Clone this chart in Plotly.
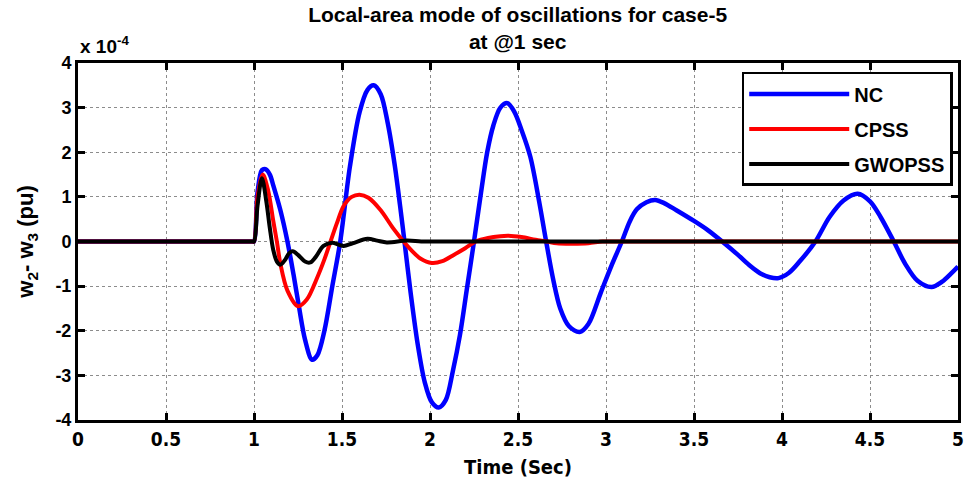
import plotly.graph_objects as go

# ---- data (values in units of 1e-4 pu) ----
t_nc = [0, 0.5, 0.98, 0.99, 1.0, 1.02, 1.045, 1.065, 1.09, 1.11, 1.15, 1.19, 1.225, 1.255, 1.29, 1.33, 1.36,
        1.40, 1.445, 1.49, 1.545, 1.60, 1.645, 1.68, 1.72, 1.76, 1.80, 1.83, 1.855, 1.89, 1.93,
        1.97, 2.01, 2.05, 2.09, 2.13, 2.17, 2.21, 2.25, 2.29, 2.325, 2.36, 2.40, 2.44, 2.48, 2.52,
        2.57, 2.62, 2.66, 2.70, 2.74, 2.79, 2.85, 2.90, 2.97, 3.03, 3.09, 3.135, 3.175, 3.23, 3.28,
        3.33, 3.40, 3.50, 3.58, 3.66, 3.75, 3.82, 3.875, 3.93, 3.98, 4.04, 4.10, 4.19, 4.27, 4.35,
        4.43, 4.50, 4.56, 4.635, 4.70, 4.77, 4.85, 4.91, 4.96, 5.0]
y_nc = [0, 0, 0, 0, 0, 1.1, 1.6, 1.62, 1.5, 1.25, 0.7, 0.0, -0.75, -1.45, -2.2, -2.65, -2.55,
        -2.0, -1.0, 0, 1.68, 2.9, 3.4, 3.5, 3.3, 2.65, 1.7, 0.8, 0, -1.15, -2.3,
        -3.15, -3.6, -3.72, -3.55, -2.9, -2.1, -1.05, 0, 1.1, 2.0, 2.6, 3.0, 3.1, 2.9, 2.5,
        1.9, 0.9, 0, -0.85, -1.5, -1.9, -2.03, -1.85, -1.15, -0.55, 0, 0.45, 0.72, 0.88, 0.93,
        0.86, 0.7, 0.46, 0.25, 0, -0.3, -0.55, -0.71, -0.8, -0.82, -0.7, -0.45, 0, 0.55, 0.92,
        1.07, 0.9, 0.55, 0, -0.5, -0.88, -1.02, -0.9, -0.72, -0.56]

t_cpss = [0, 0.5, 0.98, 0.99, 1.0, 1.02, 1.05, 1.08, 1.11, 1.13, 1.15, 1.19, 1.25, 1.30, 1.36, 1.40,
          1.435, 1.47, 1.51, 1.555, 1.60, 1.65, 1.72, 1.79, 1.85, 1.90, 1.945, 2.01, 2.07, 2.135,
          2.20, 2.26, 2.33, 2.40, 2.445, 2.52, 2.60, 2.665, 2.72, 2.80, 2.90, 2.98, 3.05, 3.5, 5.0]
y_cpss = [0, 0, 0, 0, 0, 1.0, 1.5, 1.15, 0.45, 0, -0.5, -1.1, -1.45, -1.3, -0.8, -0.4,
          0, 0.4, 0.8, 1.0, 1.05, 0.98, 0.7, 0.3, 0, -0.22, -0.38, -0.48, -0.44, -0.3,
          -0.15, 0, 0.08, 0.12, 0.13, 0.1, 0.04, 0, -0.04, -0.05, -0.04, 0, 0, 0, 0]

t_gwo = [0, 0.5, 0.98, 0.99, 1.0, 1.02, 1.045, 1.07, 1.09, 1.11, 1.13, 1.15, 1.175, 1.20, 1.22,
         1.25, 1.29, 1.32, 1.35, 1.395, 1.445, 1.48, 1.51, 1.56, 1.645, 1.70, 1.755, 1.87, 1.95,
         2.05, 2.5, 5.0]
y_gwo = [0, 0, 0, 0, 0, 0.8, 1.42, 0.9, 0.3, -0.2, -0.45, -0.52, -0.42, -0.26, -0.22,
         -0.3, -0.45, -0.47, -0.35, -0.1, -0.03, -0.07, -0.1, -0.04, 0.06, 0.02, -0.02, 0.02, 0,
         0, 0, 0]

x_ticks = [0, 0.5, 1, 1.5, 2, 2.5, 3, 3.5, 4, 4.5, 5]
x_tick_text = ["0", "0.5", "1", "1.5", "2", "2.5", "3", "3.5", "4", "4.5", "5"]
y_ticks = [-4, -3, -2, -1, 0, 1, 2, 3, 4]

BOLD = "Liberation Sans, Arial, sans-serif"
NARROW = "DejaVu Sans Condensed, Liberation Sans, sans-serif"

fig = go.Figure()
fig.add_trace(go.Scatter(x=t_nc, y=y_nc, name="<b>NC</b>", mode="lines",
                         line=dict(color="#0000ff", width=4.5, shape="spline", smoothing=0.9),
                         legendgroup="a"))
fig.add_trace(go.Scatter(x=t_cpss, y=y_cpss, name="<b>CPSS</b>", mode="lines",
                         line=dict(color="#ff0000", width=4, shape="spline", smoothing=0.9),
                         legendgroup="b"))
fig.add_trace(go.Scatter(x=t_gwo, y=y_gwo, name="<b>GWOPSS</b>", mode="lines",
                         line=dict(color="#000000", width=4, shape="spline", smoothing=0.9),
                         legendgroup="c"))

fig.update_layout(
    width=964, height=486,
    margin=dict(l=78, r=6, t=63, b=66, autoexpand=False),
    paper_bgcolor="white", plot_bgcolor="white",
    title=dict(text="<b>Local-area mode of oscillations for case-5<br>at @1 sec</b>",
               x=0.537, xanchor="center", y=0.955, yanchor="middle",
               font=dict(family=BOLD, size=21, color="black")),
    showlegend=True,
    legend=dict(x=0.994, y=0.975, xanchor="right", yanchor="top",
                bgcolor="white", bordercolor="black", borderwidth=2.5,
                font=dict(family=BOLD, size=20, color="black"),
                itemwidth=100, traceorder="grouped", tracegroupgap=6),
    annotations=[dict(text="<b>x 10<sup>-4</sup></b>", xref="paper", yref="paper",
                      x=0.0, y=1.012, xanchor="left", yanchor="bottom", showarrow=False,
                      font=dict(family=BOLD, size=19, color="black"))],
)

fig.update_xaxes(
    range=[0, 5], tickvals=x_ticks, ticktext=[f"<b>{s}</b>" for s in x_tick_text],
    showline=True, linecolor="black", linewidth=3, mirror="ticks",
    ticks="inside", ticklen=7, tickwidth=3, tickcolor="black", automargin=False,
    showgrid=True, gridcolor="#8c8c8c", gridwidth=1, griddash="dot", zeroline=False,
    tickfont=dict(family=NARROW, size=19, color="black"),
    title=dict(text="<b>Time (Sec)</b>", font=dict(family=NARROW, size=20, color="black"),
               standoff=12),
)
fig.update_yaxes(
    range=[-4, 4], tickvals=y_ticks, ticktext=[f"<b>{v}</b>" for v in y_ticks],
    showline=True, linecolor="black", linewidth=3, mirror="ticks",
    ticks="inside", ticklen=7, tickwidth=3, tickcolor="black", automargin=False,
    showgrid=True, gridcolor="#8c8c8c", gridwidth=1, griddash="dot", zeroline=False,
    tickfont=dict(family=BOLD, size=18, color="black"),
    title=dict(text="<b>w<sub>2</sub>- w<sub>3</sub> (pu)</b>",
               font=dict(family=BOLD, size=22, color="black"), standoff=16),
)

fig.write_html("out.html")
